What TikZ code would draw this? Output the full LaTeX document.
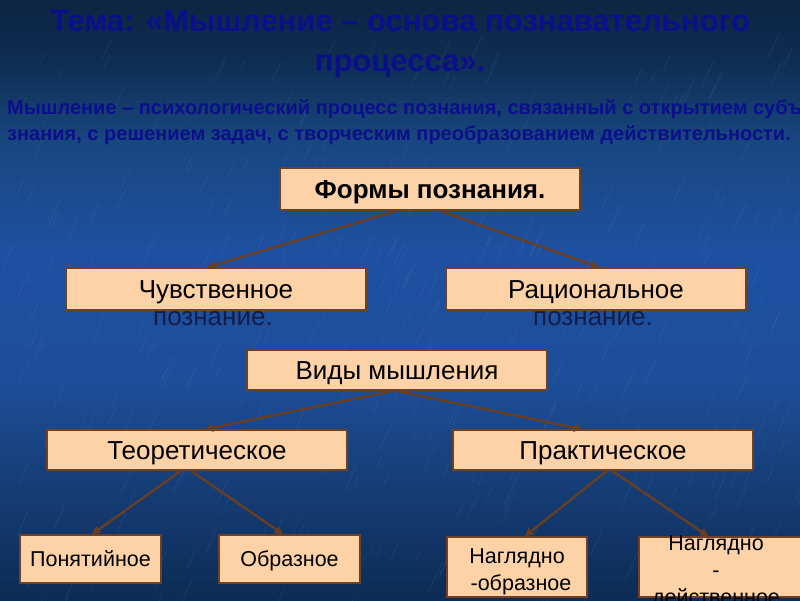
\documentclass[tikz,border=0pt]{standalone}
\usepackage{fontspec}
\setmainfont{Liberation Sans}
\usetikzlibrary{arrows.meta,calc}
\definecolor{boxfill}{HTML}{FCD2A6}
\definecolor{boxline}{HTML}{6E4024}
\definecolor{arrcol}{HTML}{6A3E20}
\definecolor{titlecol}{HTML}{0B0F8C}
\definecolor{overcol}{HTML}{121C48}
\definecolor{bgA}{HTML}{0C2542}
\definecolor{bgB}{HTML}{0F2D52}
\definecolor{bgC}{HTML}{18467F}
\definecolor{bgD}{HTML}{1E50A0}
\definecolor{bgE}{HTML}{1E4E9A}
\definecolor{bgF}{HTML}{17407A}
\definecolor{bgG}{HTML}{0D2B55}
\definecolor{streak}{HTML}{8FB4E8}
\pgfdeclareverticalshading{bgshade}{100bp}{color(0bp)=(bgG); color(25bp)=(bgG); color(35.8bp)=(bgF); color(43.3bp)=(bgE); color(54.2bp)=(bgD); color(63.3bp)=(bgC); color(70bp)=(bgB); color(75bp)=(bgA); color(100bp)=(bgA)}
\begin{document}
\begin{tikzpicture}[x=1pt,y=-1pt,
  box/.style={draw=boxline, fill=boxfill, line width=1.6pt, inner sep=0pt, text=black, text depth=0pt},
  bigbox/.style={box, minimum width=300pt, font=\fontsize{26}{30}\selectfont, text height=18.6pt},
  smallbox/.style={box, minimum width=141pt, font=\fontsize{21.5}{27}\selectfont},
  txt/.style={inner sep=0pt, anchor=base, text=black, font=\fontsize{21.5}{27}\selectfont},
  overtxt/.style={inner sep=0pt, anchor=base, text=overcol, font=\fontsize{26}{30}\selectfont},
  titletxt/.style={inner sep=0pt, anchor=base, text=titlecol, font=\bfseries\fontsize{31}{35}\selectfont},
  deftxt/.style={inner sep=0pt, anchor=base west, text=titlecol, font=\bfseries\fontsize{20}{24}\selectfont},
  streakline/.style={draw=streak, line width=0.7pt, opacity=0.10, line cap=round},
  arr/.style={draw=arrcol, line width=2.3pt, -{Triangle[length=8pt,width=8pt]}}]
\useasboundingbox (0,0) rectangle (800,600);
\clip (0,0) rectangle (800,600);
\shade[shading=bgshade] (0,0) rectangle (800,600);
% background texture
\pgfmathsetseed{1234}
\foreach \i in {1,...,380}{
  \pgfmathsetmacro\xx{rnd*820}
  \pgfmathsetmacro\yy{60+rnd*560}
  \pgfmathsetmacro\ll{8+rnd*22}
  \draw[streakline] (\xx,\yy) -- ++(0.45*\ll,-\ll);
}

% title and definition
\node[titletxt] (t1) at (400,31) {Тема: «Мышление – основа познавательного};
\node[titletxt] (t2) at (400,71) {процесса».};
\node[deftxt] (d1) at (7,114) {Мышление – психологический процесс познания, связанный с открытием субъективно нового};
\node[deftxt] (d2) at (7,140) {знания, с решением задач, с творческим преобразованием действительности.};

% boxes
\node[bigbox, minimum height=42pt, font=\bfseries\fontsize{26}{30}\selectfont] (form) at (430,189) {Формы познания.};
\node[bigbox, minimum height=42pt] (chuv) at (216,289) {Чувственное};
\node[overtxt] (chuv2) at (213,325) {познание.};
\node[bigbox, minimum height=42pt] (rac) at (596,289) {Рациональное};
\node[overtxt] (rac2) at (593,325) {познание.};
\node[bigbox, minimum height=40pt] (vidy) at (397,370) {Виды мышления};
\node[bigbox, minimum height=40pt] (teor) at (197,450) {Теоретическое};
\node[bigbox, minimum height=40pt] (prak) at (603,450) {Практическое};
\node[smallbox, minimum height=48pt, text height=15.4pt] (pon) at (90.5,559) {Понятийное};
\node[smallbox, minimum height=48pt, text height=15.4pt] (obr) at (289.5,559) {Образное};
\node[smallbox, minimum width=140pt, minimum height=60pt] (nob) at (517,567) {};
\node[txt] (nob1) at (517,563) {Наглядно};
\node[txt] (nob2) at (521,590) {-образное};
\node[smallbox, minimum width=166pt, minimum height=60pt] (nde) at (722,567) {};
\node[txt] (nde1) at (716,550) {Наглядно};
\node[txt] (nde2) at (716,577) {-};
\node[txt] (nde3) at (716,604) {действенное};

% connectors
\draw[arr] ([xshift=-33pt]form.south) -- ([xshift=-9pt]chuv.north);
\draw[arr] ([xshift=10pt]form.south) -- ([xshift=3pt]rac.north);
\draw[arr] ([xshift=-3pt]vidy.south) -- ([xshift=8pt]teor.north);
\draw[arr] ([xshift=-1pt]vidy.south) -- ([xshift=-21pt]prak.north);
\draw[arr] ([xshift=-16pt]teor.south) -- ([xshift=1.5pt]pon.north);
\draw[arr] ([xshift=-6pt]teor.south) -- ([xshift=-6.5pt]obr.north);
\draw[arr] ([xshift=4pt]prak.south) -- ([xshift=8pt]nob.north);
\draw[arr] ([xshift=9pt]prak.south) -- ([xshift=70pt]nde.north west);
\end{tikzpicture}
\end{document}
